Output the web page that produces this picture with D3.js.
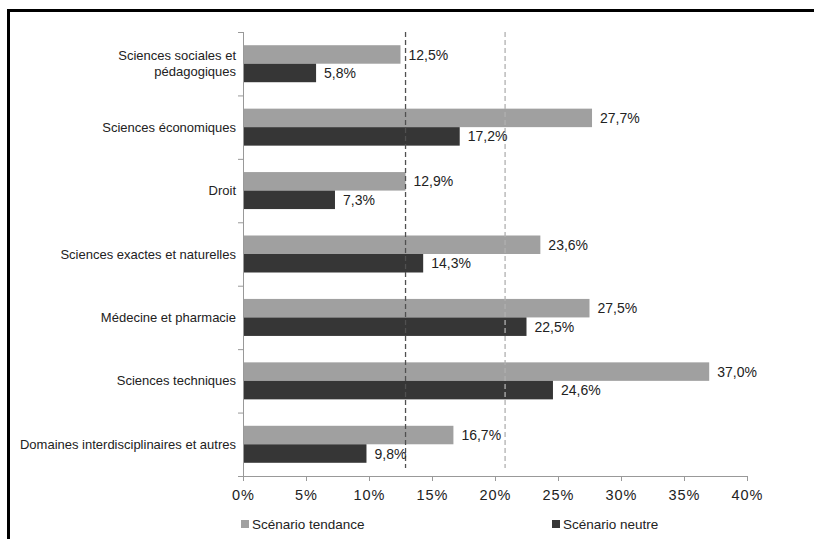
<!DOCTYPE html>
<html><head><meta charset="utf-8">
<script src="https://cdn.jsdelivr.net/npm/d3@7"></script>
<style>body{margin:0;background:#fff}svg{display:block}text{font-family:"Liberation Sans",Arial,sans-serif}</style>
</head><body><svg id="c" width="814" height="539"></svg>
<script>
const categories = ["Sciences sociales et\npédagogiques","Sciences économiques","Droit","Sciences exactes et naturelles","Médecine et pharmacie","Sciences techniques","Domaines interdisciplinaires et autres"];
const tendance = [12.5,27.7,12.9,23.6,27.5,37.0,16.7];
const neutre = [5.8,17.2,7.3,14.3,22.5,24.6,9.8];
const refLines = [12.9,20.8];
const xTicks = [0,5,10,15,20,25,30,35,40];
const seriesNames = ["Scénario tendance","Scénario neutre"];

(function(){
const svg = d3.select("#c");
const colors = ["#a0a0a0","#363636"];
const pL = 243, pR = 747, pT = 32, pB = 476;
const x = d3.scaleLinear().domain([0,40]).range([pL,pR]);
const y = d3.scaleBand().domain(categories).range([pT,pB]).paddingInner(0).paddingOuter(0);
const fmt = v => v.toFixed(1).replace(".",",")+"%";

// frame
svg.append("line").attr("x1",7).attr("x2",814).attr("y1",10.5).attr("y2",10.5).attr("stroke","#000").attr("stroke-width",3);
svg.append("line").attr("x1",8.5).attr("x2",8.5).attr("y1",9).attr("y2",539).attr("stroke","#000").attr("stroke-width",3);

const bh = 18.5;
const off = (y.bandwidth()-2*bh)/2;
categories.forEach((c,i)=>{
  const y0 = y(c)+off;
  [[tendance[i],0],[neutre[i],1]].forEach(([v,k])=>{
    const yy = y0+k*bh;
    svg.append("rect").attr("x",x(0)).attr("y",yy).attr("width",x(v)-x(0)).attr("height",bh).attr("fill",colors[k]);
  });
});

// ref dashed lines
refLines.forEach((v,i)=>{
  svg.append("line").attr("x1",x(v)).attr("x2",x(v)).attr("y1",pT).attr("y2",pB-8)
    .attr("stroke",i===0?"#505050":"#b0b0b0").attr("stroke-width",1.3).attr("stroke-dasharray","5,3");
});

// value labels
categories.forEach((c,i)=>{
  const y0 = y(c)+off;
  [[tendance[i],0],[neutre[i],1]].forEach(([v,k])=>{
    svg.append("text").attr("x",x(v)+8).attr("y",y0+k*bh+bh/2).attr("dy","0.36em")
      .attr("font-size",14).attr("fill","#222").text(fmt(v));
  });
});

// x axis
const xa = svg.append("g").attr("transform",`translate(0,${pB})`)
  .call(d3.axisBottom(x).tickValues(xTicks).tickSize(5).tickPadding(9).tickFormat(d=>d+"%"));
xa.select(".domain").attr("stroke","#999").attr("d",`M${pL},0.5H${pR}`);
xa.selectAll(".tick line").attr("stroke","#999");
xa.selectAll("text").attr("font-size",14.5).attr("letter-spacing","1px").attr("fill","#222").attr("font-family","Liberation Sans, Arial, sans-serif");

// y axis
const ya = svg.append("g").attr("transform",`translate(${pL},0)`)
  .call(d3.axisLeft(y).tickSize(0).tickFormat(""));
ya.select(".domain").attr("stroke","#999").attr("d",`M0.5,${pT}V${pB+5}`);
const bounds = d3.range(categories.length+1).map(i=>pT+i*y.step());
ya.selectAll(".bnd").data(bounds).enter().append("line")
  .attr("x1",-5).attr("x2",0.5).attr("y1",d=>d+0.5).attr("y2",d=>d+0.5).attr("stroke","#999");

categories.forEach(c=>{
  const lines = c.split("\n");
  const cy = y(c)+y.bandwidth()/2;
  const t = svg.append("text").attr("text-anchor","end").attr("font-size",13).attr("fill","#222");
  lines.forEach((l,j)=>{
    t.append("tspan").attr("x",pL-7).attr("y",cy+(j-(lines.length-1)/2)*16).attr("dy","0.35em").text(l);
  });
});

// legend
const lx = [241,552];
seriesNames.forEach((n,k)=>{
  svg.append("rect").attr("x",lx[k]).attr("y",520).attr("width",8).attr("height",8).attr("fill",colors[k]);
  svg.append("text").attr("x",lx[k]+11).attr("y",524).attr("dy","0.35em").attr("font-size",13.5).attr("fill","#222").text(n);
});
})();
</script></body></html>
